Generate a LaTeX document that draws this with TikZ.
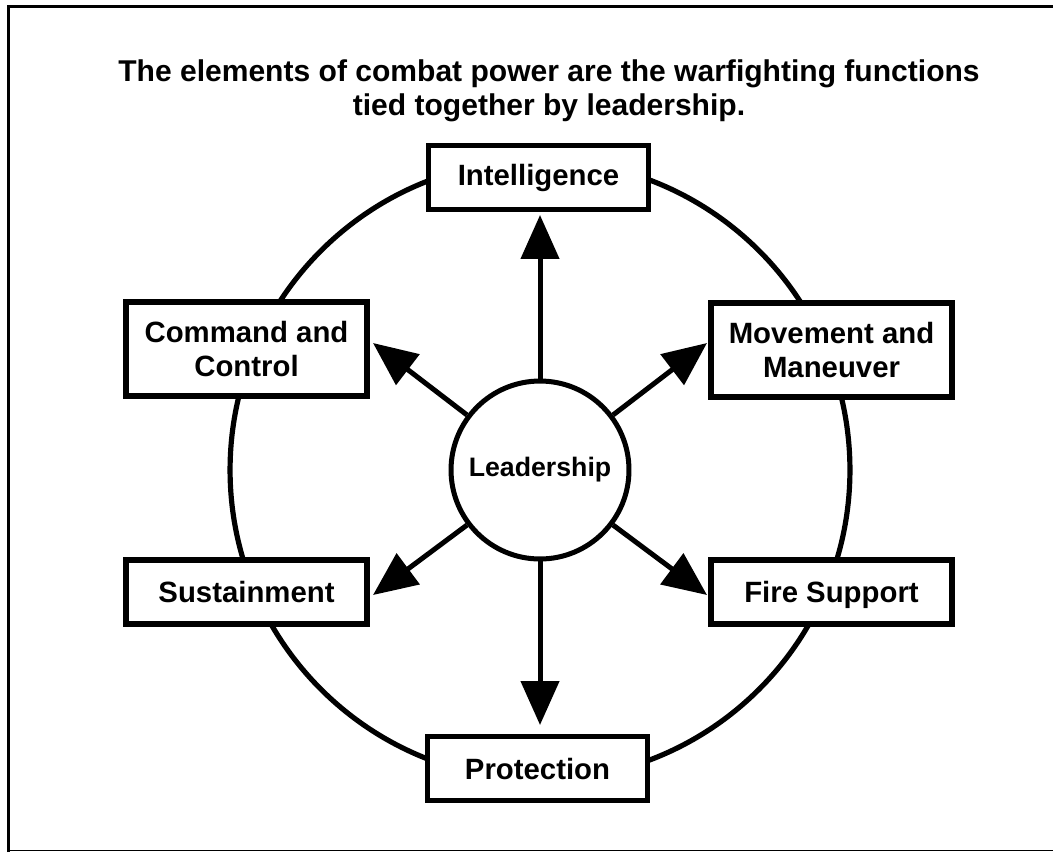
\documentclass[tikz,border=0pt]{standalone}
\usepackage{fontspec}
\setmainfont{Liberation Sans}
\usetikzlibrary{arrows.meta}
\begin{document}
\begin{tikzpicture}[x=0.02cm,y=-0.02cm,
  fnbox/.style={draw,line width=3pt,fill=white,align=center,inner sep=0pt,
    font=\fontsize{16.7}{19.3}\selectfont\bfseries},
  sidebox/.style={fnbox,minimum width=4.82cm},
  tbbox/.style={fnbox,minimum width=4.4cm,minimum height=1.27cm},
  leadnode/.style={draw,circle,line width=2.85pt,fill=white,inner sep=0pt,
    minimum size=3.56cm,font=\fontsize{15.2}{17}\selectfont\bfseries},
  conn/.style={line width=2.85pt,-{Triangle[length=25pt,width=21.5pt]}},
  ring/.style={line width=2.95pt},
  frameline/.style={line width=1.7pt}]
\useasboundingbox (0,0) rectangle (1053,852);
% frame
\draw[frameline] (8.5,852) -- (8.5,6.5) -- (1053,6.5);
\draw[line width=1.1pt] (8.5,850.5) -- (1053,850.5);
% title
\node[align=center,inner sep=0pt,font=\fontsize{17.1}{19.3}\selectfont\bfseries] (title) at (549,91)
  {The elements of combat power are the warfighting functions\\tied together by leadership.};
% ring
\coordinate (ctr) at (540,470);
\draw[ring] (ctr) circle[radius=6.2cm];
% boxes
\node[tbbox] (intel) at (538.5,177.5) {Intelligence};
\node[tbbox] (prot) at (537.5,768.5) {Protection};
\node[sidebox,minimum height=1.88cm] (cc) at (246.5,349) {Command and\\Control};
\node[sidebox,minimum height=1.88cm] (mm) at (831.5,350) {Movement and\\Maneuver};
\node[sidebox,minimum height=1.28cm] (sus) at (246.5,592) {Sustainment};
\node[sidebox,minimum height=1.28cm] (fs) at (831.5,592) {Fire Su\smash{pp}ort};
% leadership
\node[leadnode] (lead) at (ctr) {Leadership};
% arrow tips
\coordinate (tUp) at (540,215);
\coordinate (tDn) at (540,725);
\coordinate (tUL) at (373,343);
\coordinate (tUR) at (707,343);
\coordinate (tLL) at (373,595);
\coordinate (tLR) at (707,595);
\draw[conn] (lead.north) -- (tUp);
\draw[conn] (lead.south) -- (tDn);
\draw[conn] (lead.143) -- (tUL);
\draw[conn] (lead.37) -- (tUR);
\draw[conn] (lead.-143) -- (tLL);
\draw[conn] (lead.-37) -- (tLR);
\end{tikzpicture}
\end{document}
